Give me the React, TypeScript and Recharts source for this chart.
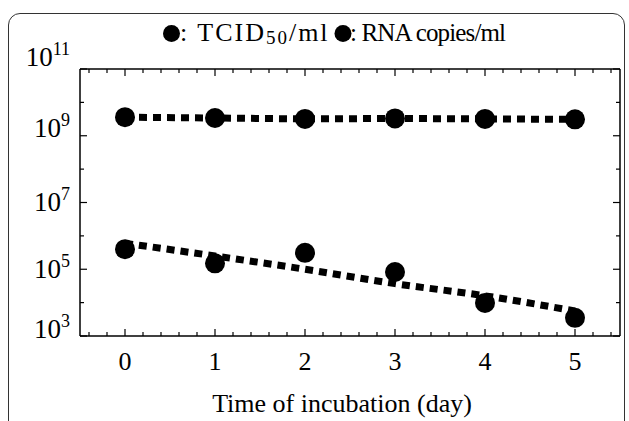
import { Label, Line, LineChart, XAxis, YAxis } from "recharts";

const days = [0, 1, 2, 3, 4, 5];
const tcid50 = [4.0e5, 1.5e5, 3.1e5, 8.3e4, 9.8e3, 3.5e3];
const tcid50Fit = [6.0e5, 2.5e5, 1.0e5, 3.7e4, 1.6e4, 5.6e3];
const rnaCopies = [3.6e9, 3.4e9, 3.2e9, 3.3e9, 3.2e9, 3.1e9];

const dayLabels = [0, 1, 2, 3, 4, 5];
const labelledExponents = [3, 5, 7, 9, 11];
const allExponents = [3, 4, 5, 6, 7, 8, 9, 10, 11];

const FONT = '"Liberation Serif", "Times New Roman", serif';

const data = days.map((day, i) => ({
  day,
  tcid50: tcid50[i],
  tcid50Fit: tcid50Fit[i],
  rnaCopies: rnaCopies[i],
}));

// minor ticks every 0.2 day, labels only on whole days
const xTicks = Array.from({ length: 30 }, (_, i) => Math.round((-0.4 + i * 0.2) * 10) / 10);
const yTicks = allExponents.map((e) => Math.pow(10, e));

function isWholeDay(v: number) {
  return dayLabels.some((d) => Math.abs(d - v) < 1e-6);
}

function expOf(v: number) {
  return Math.round(Math.log10(v));
}

function BottomTick(props: any) {
  const { x, y, payload } = props;
  const major = isWholeDay(payload.value);
  return (
    <g>
      <line x1={x} x2={x} y1={y} y2={y - (major ? 7 : 4)} stroke="#000" strokeWidth={1.2} />
      {major && (
        <text x={x} y={y + 34} textAnchor="middle" fontSize={26} fontFamily={FONT} fill="#000">
          {Math.round(payload.value)}
        </text>
      )}
    </g>
  );
}

function TopTick(props: any) {
  const { x, y, payload } = props;
  const major = isWholeDay(payload.value);
  return <line x1={x} x2={x} y1={y} y2={y + (major ? 7 : 4)} stroke="#000" strokeWidth={1.2} />;
}

const labelShift: Record<number, number> = { 11: -3, 9: 1, 7: 8, 5: 9, 3: 2 };

function LeftTick(props: any) {
  const { x, y, payload } = props;
  const e = expOf(payload.value);
  const major = labelledExponents.includes(e);
  return (
    <g>
      <line x1={x} x2={x + (major ? 7 : 4)} y1={y} y2={y} stroke="#000" strokeWidth={1.2} />
      {major && (
        <text x={x - 10} y={y + (labelShift[e] ?? 0)} textAnchor="end" fontSize={27} fontFamily={FONT} fill="#000">
          10
          <tspan dy={-11} fontSize={18}>
            {e}
          </tspan>
        </text>
      )}
    </g>
  );
}

function RightTick(props: any) {
  const { x, y, payload } = props;
  const major = labelledExponents.includes(expOf(payload.value));
  return <line x1={x} x2={x - (major ? 7 : 4)} y1={y} y2={y} stroke="#000" strokeWidth={1.2} />;
}

export default function App() {
  return (
    <div
      style={{
        position: "absolute",
        left: 0,
        top: 0,
        width: 629,
        height: 421,
        overflow: "hidden",
        background: "#fff",
      }}
    >
      <div
        style={{
          position: "absolute",
          left: 8,
          top: 13,
          width: 615,
          height: 440,
          border: "1.5px solid #333",
          borderRadius: 12,
        }}
      />
      <svg width={629} height={60} style={{ position: "absolute", left: 0, top: 0 }}>
        <circle cx={171.5} cy={33.5} r={8.5} fill="#000" />
        <text x={180} y={41} fontSize={26} fontFamily={FONT} fill="#000" letterSpacing={2}>
          : TCID
          <tspan fontSize={19} dy={3}>
            50
          </tspan>
          <tspan dy={-3}>/ml</tspan>
        </text>
        <circle cx={343} cy={33.5} r={8.5} fill="#000" />
        <text x={350} y={41} fontSize={25} fontFamily={FONT} fill="#000" textLength={156} lengthAdjust="spacing">
          : RNA copies/ml
        </text>
      </svg>
      <div style={{ position: "absolute", left: 0, top: 0 }}>
        <LineChart width={629} height={421} data={data} margin={{ top: 68, right: 8, bottom: 0, left: 10 }}>
          <XAxis
            xAxisId="top"
            orientation="top"
            dataKey="day"
            type="number"
            domain={[-0.5, 5.5]}
            allowDataOverflow
            ticks={xTicks}
            interval={0}
            height={1}
            tickSize={0}
            tickMargin={0}
            tickLine={false}
            tick={<TopTick />}
            axisLine={{ stroke: "#000", strokeWidth: 1.5 }}
          />
          <XAxis
            xAxisId="main"
            dataKey="day"
            type="number"
            domain={[-0.5, 5.5]}
            allowDataOverflow
            ticks={xTicks}
            interval={0}
            height={85}
            tickSize={0}
            tickMargin={0}
            tickLine={false}
            tick={<BottomTick />}
            axisLine={{ stroke: "#000", strokeWidth: 1.5 }}
          >
            <Label
              value="Time of incubation (day)"
              position="insideBottom"
              offset={9}
              dx={-8}
              fontSize={26}
              fontFamily={FONT}
              fill="#000"
            />
          </XAxis>
          <YAxis
            yAxisId="right"
            orientation="right"
            type="number"
            scale="log"
            domain={[1e3, 1e11]}
            allowDataOverflow
            ticks={yTicks}
            interval={0}
            width={1}
            tickSize={0}
            tickMargin={0}
            tickLine={false}
            tick={<RightTick />}
            axisLine={{ stroke: "#000", strokeWidth: 1.5 }}
          />
          <YAxis
            yAxisId="main"
            type="number"
            scale="log"
            domain={[1e3, 1e11]}
            allowDataOverflow
            ticks={yTicks}
            interval={0}
            width={70}
            tickSize={0}
            tickMargin={0}
            tickLine={false}
            tick={<LeftTick />}
            axisLine={{ stroke: "#000", strokeWidth: 1.5 }}
          />
          {/* invisible series so the mirrored top/right frame axes get drawn */}
          <Line
            xAxisId="top"
            yAxisId="right"
            dataKey="rnaCopies"
            stroke="none"
            dot={false}
            activeDot={false}
            isAnimationActive={false}
          />
          <Line
            xAxisId="main"
            yAxisId="main"
            type="monotone"
            dataKey="tcid50Fit"
            stroke="#000"
            strokeWidth={7}
            strokeDasharray="8 6"
            dot={false}
            isAnimationActive={false}
          />
          <Line
            xAxisId="main"
            yAxisId="main"
            dataKey="tcid50"
            stroke="none"
            dot={{ r: 10, fill: "#000", stroke: "#000", strokeWidth: 0 }}
            isAnimationActive={false}
          />
          <Line
            xAxisId="main"
            yAxisId="main"
            type="linear"
            dataKey="rnaCopies"
            stroke="#000"
            strokeWidth={7}
            strokeDasharray="8 6"
            dot={{ r: 10, fill: "#000", stroke: "#000", strokeWidth: 0 }}
            isAnimationActive={false}
          />
        </LineChart>
      </div>
    </div>
  );
}
